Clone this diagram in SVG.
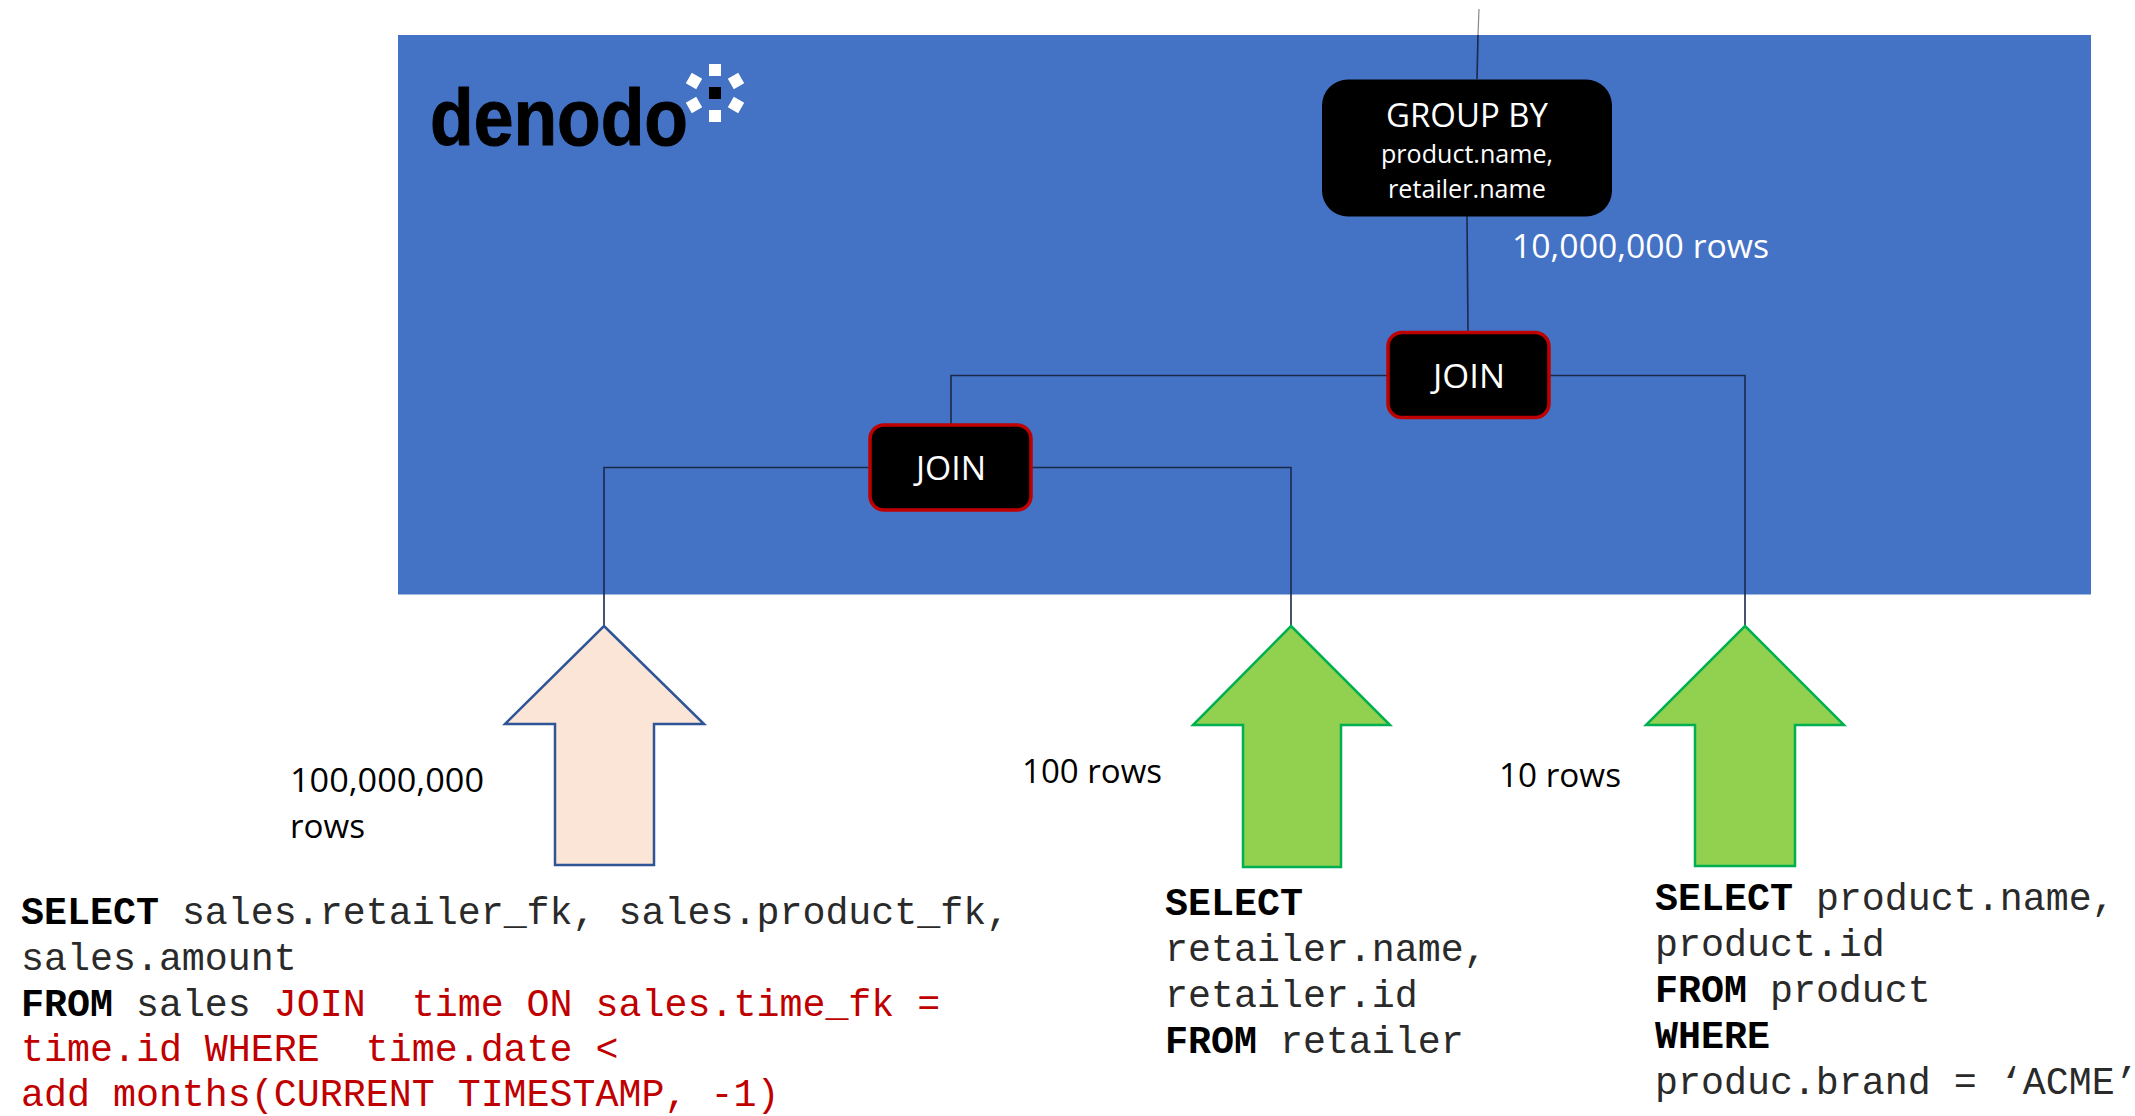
<svg xmlns="http://www.w3.org/2000/svg" width="2135" height="1116" viewBox="0 0 2135 1116">
<style>
.ui{font-family:"Open Sans","Noto Sans",sans-serif}
.w{fill:#fff}.k{fill:#000}
.m{font-family:"Liberation Mono","Courier New",monospace;font-size:38.3px;fill:#2a2a2a}
.m .b{font-weight:bold;fill:#000}.m .r{fill:#c00000}
.c{fill:none;stroke:#1b2a4a;stroke-width:1.6}
.node{fill:#000}.red{stroke:#c00000;stroke-width:3.5}
.ag{fill:#92d050;stroke:#00b050;stroke-width:2.5}
.ap{fill:#fbe5d6;stroke:#2f5597;stroke-width:2.5}
</style>
<rect id="panel" x="398" y="35" width="1693" height="559.500" fill="#4472c4"/>
<g id="logo">
<text x="430" y="145" font-family="'Liberation Sans',sans-serif" font-weight="bold" font-size="80" fill="#000" stroke="#000" stroke-width="1" textLength="258" lengthAdjust="spacingAndGlyphs">denodo</text>
<rect x="709" y="64" width="12" height="12" fill="#fff"/>
<rect x="709" y="87" width="12" height="12" fill="#000"/>
<rect x="709" y="110" width="12" height="12" fill="#fff"/>
<rect x="688" y="75" width="12" height="12" fill="#fff" transform="rotate(30 694 81)"/>
<rect x="730" y="75" width="12" height="12" fill="#fff" transform="rotate(-30 736 81)"/>
<rect x="688" y="99" width="12" height="12" fill="#fff" transform="rotate(-30 694 105)"/>
<rect x="730" y="99" width="12" height="12" fill="#fff" transform="rotate(30 736 105)"/>
</g>
<g id="connectors">
<path d="M1479 9L1478 35" fill="none" stroke="#888" stroke-width="1.2"/>
<path class="c" d="M1478 35L1477 79"/>
<path class="c" d="M1467 216L1468 332"/>
<path class="c" d="M1387 375.500H951V424"/>
<path class="c" d="M1550 375.500H1745V626"/>
<path class="c" d="M870 467.500H604V626"/>
<path class="c" d="M1032 467.500H1291V626"/>
</g>
<g id="group-by">
<rect class="node" x="1322" y="79.500" width="290" height="137" rx="26"/>
<text class="ui w" x="1386" y="127" font-size="33" textLength="162" lengthAdjust="spacingAndGlyphs">GROUP BY</text>
<text class="ui w" x="1381" y="163" font-size="26" textLength="172" lengthAdjust="spacingAndGlyphs">product.name,</text>
<text class="ui w" x="1388" y="198" font-size="26" textLength="158" lengthAdjust="spacingAndGlyphs">retailer.name</text>
</g>
<g id="join-top">
<rect class="node red" x="1388" y="332.500" width="161" height="85" rx="14"/>
<text class="ui w" x="1433" y="388" font-size="33" textLength="72" lengthAdjust="spacingAndGlyphs">JOIN</text>
</g>
<g id="join-left">
<rect class="node red" x="870" y="425" width="161" height="85" rx="14"/>
<text class="ui w" x="916" y="480" font-size="33" textLength="70" lengthAdjust="spacingAndGlyphs">JOIN</text>
</g>
<text id="rows-total" class="ui w" x="1512" y="258" font-size="33" textLength="257" lengthAdjust="spacingAndGlyphs">10,000,000 rows</text>
<g id="arrow-sales"><path class="ap" d="M604 626L704 724H654V865H555V724H505Z"/></g>
<g id="arrow-retailer"><path class="ag" d="M1291 626L1390 725H1341V867H1243V725H1193Z"/></g>
<g id="arrow-product"><path class="ag" d="M1745 626L1844 725H1795V866H1695V725H1646Z"/></g>
<text class="ui k" font-size="33" x="290" y="792" textLength="194" lengthAdjust="spacingAndGlyphs">100,000,000</text>
<text class="ui k" font-size="33" x="290" y="838" textLength="75" lengthAdjust="spacingAndGlyphs">rows</text>
<text class="ui k" font-size="33" x="1022" y="783" textLength="140" lengthAdjust="spacingAndGlyphs">100 rows</text>
<text class="ui k" font-size="33" x="1499" y="787" textLength="122" lengthAdjust="spacingAndGlyphs">10 rows</text>
<text class="m" xml:space="preserve"><tspan x="21" y="924"><tspan class="b">SELECT</tspan> sales.retailer_fk, sales.product_fk,</tspan><tspan x="21" y="970">sales.amount</tspan><tspan x="21" y="1016"><tspan class="b">FROM</tspan> sales <tspan class="r">JOIN  time ON sales.time_fk =</tspan></tspan><tspan x="21" y="1061" class="r">time.id WHERE  time.date &lt;</tspan><tspan x="21" y="1106" class="r">add months(CURRENT TIMESTAMP, -1)</tspan></text>
<text class="m" xml:space="preserve"><tspan x="1165" y="915" class="b">SELECT</tspan><tspan x="1165" y="961">retailer.name,</tspan><tspan x="1165" y="1007">retailer.id</tspan><tspan x="1165" y="1053"><tspan class="b">FROM</tspan> retailer</tspan></text>
<text class="m" xml:space="preserve"><tspan x="1655" y="910"><tspan class="b">SELECT</tspan> product.name,</tspan><tspan x="1655" y="956">product.id</tspan><tspan x="1655" y="1002"><tspan class="b">FROM</tspan> product</tspan><tspan x="1655" y="1048" class="b">WHERE</tspan><tspan x="1655" y="1094">produc.brand = ‘ACME’</tspan></text>
</svg>
